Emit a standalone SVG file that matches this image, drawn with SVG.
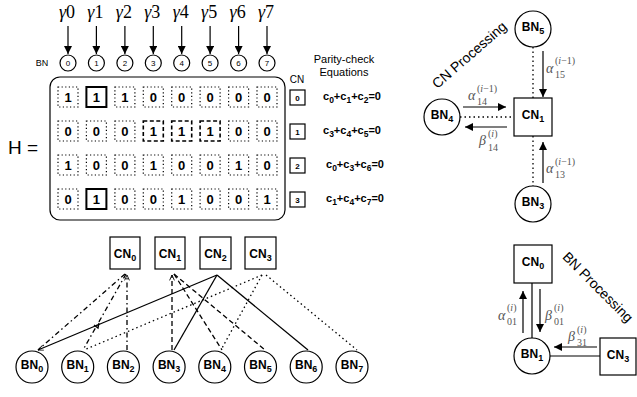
<svg xmlns="http://www.w3.org/2000/svg" width="637" height="397" viewBox="0 0 637 397">
<style>
.t{font-family:"Liberation Sans",Arial,sans-serif;fill:#000}
.b{font-weight:bold}
.ln{stroke:#000;fill:none;stroke-width:1.2}
.dot{stroke:#000;fill:#fff;stroke-width:1.2;stroke-dasharray:1.2 2.4}
.dsh{stroke:#000;fill:#fff;stroke-width:1.6;stroke-dasharray:4 2.5}
.bld{stroke:#000;fill:#fff;stroke-width:2}
.box{stroke:#000;fill:#fff;stroke-width:1.2}
.cd{font-family:"Liberation Sans",Arial,sans-serif;font-weight:bold;font-size:13px;text-anchor:middle}
.g{font-family:"Liberation Serif","DejaVu Serif",serif;font-size:18px;text-anchor:middle}
.m{font-family:"Liberation Serif","DejaVu Serif",serif;fill:#555}
.mi{font-style:italic;font-size:14px}
.ms{font-size:10px}
.eq{font-family:"Liberation Sans",Arial,sans-serif;font-weight:bold;font-size:11px}
.sb{font-size:8.5px}
.lbl{font-family:"Liberation Sans",Arial,sans-serif;font-weight:bold;font-size:12px;text-anchor:middle}
.lbs{font-size:9px}
.sd{stroke:#000;fill:none;stroke-width:1.3}
.dd{stroke-dasharray:5 3 1.5 3}
.da{stroke-dasharray:5 3}
.dt{stroke-dasharray:1.5 3}
</style>
<defs>
<marker id="ah" viewBox="0 0 10 10" refX="10" refY="5" markerWidth="9" markerHeight="8" markerUnits="userSpaceOnUse" orient="auto">
<path d="M0,0 L10,5 L0,10 z" fill="#000"/>
</marker>
<marker id="ao" viewBox="0 0 10 10" refX="10" refY="5" markerWidth="6" markerHeight="6" markerUnits="userSpaceOnUse" orient="auto">
<path d="M1,1 L10,5 L1,9" fill="none" stroke="#000" stroke-width="1.5"/>
</marker>
</defs>

<!-- gamma inputs -->
<g id="gammas">
<text class="g" x="67" y="18"><tspan font-style="italic">γ</tspan>0</text>
<text class="g" x="95.4" y="18"><tspan font-style="italic">γ</tspan>1</text>
<text class="g" x="123.9" y="18"><tspan font-style="italic">γ</tspan>2</text>
<text class="g" x="152.3" y="18"><tspan font-style="italic">γ</tspan>3</text>
<text class="g" x="180.7" y="18"><tspan font-style="italic">γ</tspan>4</text>
<text class="g" x="209.1" y="18"><tspan font-style="italic">γ</tspan>5</text>
<text class="g" x="237.6" y="18"><tspan font-style="italic">γ</tspan>6</text>
<text class="g" x="266" y="18"><tspan font-style="italic">γ</tspan>7</text>
</g>
<g id="gamma-arrows">
<line class="ln" x1="68" y1="26" x2="68" y2="54" marker-end="url(#ah)"/>
<line class="ln" x1="96.4" y1="26" x2="96.4" y2="54" marker-end="url(#ah)"/>
<line class="ln" x1="124.9" y1="26" x2="124.9" y2="54" marker-end="url(#ah)"/>
<line class="ln" x1="153.3" y1="26" x2="153.3" y2="54" marker-end="url(#ah)"/>
<line class="ln" x1="181.7" y1="26" x2="181.7" y2="54" marker-end="url(#ah)"/>
<line class="ln" x1="210.1" y1="26" x2="210.1" y2="54" marker-end="url(#ah)"/>
<line class="ln" x1="238.6" y1="26" x2="238.6" y2="54" marker-end="url(#ah)"/>
<line class="ln" x1="267" y1="26" x2="267" y2="54" marker-end="url(#ah)"/>
</g>

<!-- BN index circles -->
<g id="bn-index">
<text class="t" x="42" y="66" font-size="9" text-anchor="middle">BN</text>
<g class="t" font-size="8" text-anchor="middle">
<circle class="box" cx="68" cy="63" r="8"/><text x="68" y="66">0</text>
<circle class="box" cx="96.4" cy="63" r="8"/><text x="96.4" y="66">1</text>
<circle class="box" cx="124.9" cy="63" r="8"/><text x="124.9" y="66">2</text>
<circle class="box" cx="153.3" cy="63" r="8"/><text x="153.3" y="66">3</text>
<circle class="box" cx="181.7" cy="63" r="8"/><text x="181.7" y="66">4</text>
<circle class="box" cx="210.1" cy="63" r="8"/><text x="210.1" y="66">5</text>
<circle class="box" cx="238.6" cy="63" r="8"/><text x="238.6" y="66">6</text>
<circle class="box" cx="267" cy="63" r="8"/><text x="267" y="66">7</text>
</g>
</g>

<!-- H matrix -->
<g id="matrix">
<text class="t" x="8" y="154" font-size="19">H =</text>
<rect class="box" x="50" y="77" width="235" height="143" rx="10" stroke-width="1.5"/>
<rect class="dot" x="58" y="87" width="20" height="20"/>
<rect class="bld" x="86.4" y="87" width="20" height="20"/>
<rect class="dot" x="114.9" y="87" width="20" height="20"/>
<rect class="dot" x="143.3" y="87" width="20" height="20"/>
<rect class="dot" x="171.7" y="87" width="20" height="20"/>
<rect class="dot" x="200.1" y="87" width="20" height="20"/>
<rect class="dot" x="228.6" y="87" width="20" height="20"/>
<rect class="dot" x="257" y="87" width="20" height="20"/>
<rect class="dot" x="58" y="121" width="20" height="20"/>
<rect class="dot" x="86.4" y="121" width="20" height="20"/>
<rect class="dot" x="114.9" y="121" width="20" height="20"/>
<rect class="dsh" x="143.3" y="121" width="20" height="20"/>
<rect class="dsh" x="171.7" y="121" width="20" height="20"/>
<rect class="dsh" x="200.1" y="121" width="20" height="20"/>
<rect class="dot" x="228.6" y="121" width="20" height="20"/>
<rect class="dot" x="257" y="121" width="20" height="20"/>
<rect class="dot" x="58" y="155" width="20" height="20"/>
<rect class="dot" x="86.4" y="155" width="20" height="20"/>
<rect class="dot" x="114.9" y="155" width="20" height="20"/>
<rect class="dot" x="143.3" y="155" width="20" height="20"/>
<rect class="dot" x="171.7" y="155" width="20" height="20"/>
<rect class="dot" x="200.1" y="155" width="20" height="20"/>
<rect class="dot" x="228.6" y="155" width="20" height="20"/>
<rect class="dot" x="257" y="155" width="20" height="20"/>
<rect class="dot" x="58" y="189" width="20" height="20"/>
<rect class="bld" x="86.4" y="189" width="20" height="20"/>
<rect class="dot" x="114.9" y="189" width="20" height="20"/>
<rect class="dot" x="143.3" y="189" width="20" height="20"/>
<rect class="dot" x="171.7" y="189" width="20" height="20"/>
<rect class="dot" x="200.1" y="189" width="20" height="20"/>
<rect class="dot" x="228.6" y="189" width="20" height="20"/>
<rect class="dot" x="257" y="189" width="20" height="20"/>
<g class="cd">
<text x="68" y="102">1</text><text x="96.4" y="102">1</text><text x="124.9" y="102">1</text><text x="153.3" y="102">0</text><text x="181.7" y="102">0</text><text x="210.1" y="102">0</text><text x="238.6" y="102">0</text><text x="267" y="102">0</text>
<text x="68" y="136">0</text><text x="96.4" y="136">0</text><text x="124.9" y="136">0</text><text x="153.3" y="136">1</text><text x="181.7" y="136">1</text><text x="210.1" y="136">1</text><text x="238.6" y="136">0</text><text x="267" y="136">0</text>
<text x="68" y="170">1</text><text x="96.4" y="170">0</text><text x="124.9" y="170">0</text><text x="153.3" y="170">1</text><text x="181.7" y="170">0</text><text x="210.1" y="170">0</text><text x="238.6" y="170">1</text><text x="267" y="170">0</text>
<text x="68" y="204">0</text><text x="96.4" y="204">1</text><text x="124.9" y="204">0</text><text x="153.3" y="204">0</text><text x="181.7" y="204">1</text><text x="210.1" y="204">0</text><text x="238.6" y="204">0</text><text x="267" y="204">1</text>
</g>
</g>

<!-- CN index and equations -->
<g id="cn-index">
<text class="t" x="297" y="83" font-size="10" text-anchor="middle">CN</text>
<rect class="box" x="290" y="90" width="15" height="15"/>
<rect class="box" x="290" y="124" width="15" height="15"/>
<rect class="box" x="290" y="158" width="15" height="15"/>
<rect class="box" x="290" y="192" width="15" height="15"/>
<g class="t b" font-size="8" text-anchor="middle">
<text x="297.5" y="100.5">0</text><text x="297.5" y="134.5">1</text><text x="297.5" y="168.5">2</text><text x="297.5" y="202.5">3</text>
</g>
</g>
<g id="equations">
<text class="t" x="344" y="63" font-size="11" text-anchor="middle">Parity-check</text>
<text class="t" x="344" y="76" font-size="11" text-anchor="middle">Equations</text>
<text class="eq" x="323" y="100">c<tspan class="sb" dy="3">0</tspan><tspan dy="-3">+c</tspan><tspan class="sb" dy="3">1</tspan><tspan dy="-3">+c</tspan><tspan class="sb" dy="3">2</tspan><tspan dy="-3">=0</tspan></text>
<text class="eq" x="323" y="134">c<tspan class="sb" dy="3">3</tspan><tspan dy="-3">+c</tspan><tspan class="sb" dy="3">4</tspan><tspan dy="-3">+c</tspan><tspan class="sb" dy="3">5</tspan><tspan dy="-3">=0</tspan></text>
<text class="eq" x="326" y="168">c<tspan class="sb" dy="3">0</tspan><tspan dy="-3">+c</tspan><tspan class="sb" dy="3">3</tspan><tspan dy="-3">+c</tspan><tspan class="sb" dy="3">6</tspan><tspan dy="-3">=0</tspan></text>
<text class="eq" x="326" y="202">c<tspan class="sb" dy="3">1</tspan><tspan dy="-3">+c</tspan><tspan class="sb" dy="3">4</tspan><tspan dy="-3">+c</tspan><tspan class="sb" dy="3">7</tspan><tspan dy="-3">=0</tspan></text>
</g>

<!-- Tanner graph connectors -->
<g id="tanner-edges">
<line class="sd dd" x1="125" y1="274" x2="38" y2="350"/>
<line class="sd dd" x1="126" y1="274" x2="83" y2="350"/>
<line class="sd dd" x1="127" y1="350" x2="127" y2="275" marker-end="url(#ao)"/>
<path class="sd" d="M94,325 L98,328 L99,323"/>
<line class="sd da" x1="172" y1="350" x2="172" y2="275" marker-end="url(#ao)"/>
<line class="sd da" x1="174" y1="274" x2="222" y2="350"/>
<line class="sd da" x1="174" y1="274" x2="265" y2="350"/>
<line class="sd" x1="217" y1="275" x2="38" y2="350" marker-end="url(#ao)"/>
<line class="sd" x1="217" y1="275" x2="174" y2="350"/>
<line class="sd" x1="217" y1="275" x2="308" y2="350"/>
<line class="sd dt" x1="262" y1="275" x2="84" y2="350"/>
<line class="sd dt" x1="262" y1="275" x2="221" y2="350"/>
<line class="sd dt" x1="266" y1="275" x2="357" y2="350"/>
</g>

<!-- Tanner CN nodes -->
<g id="tcn0"><rect class="box" x="110" y="237" width="30" height="32"/><text class="lbl" x="125" y="258">CN<tspan class="lbs" dy="3">0</tspan></text></g>
<g id="tcn1"><rect class="box" x="155" y="237" width="30" height="32"/><text class="lbl" x="170" y="258">CN<tspan class="lbs" dy="3">1</tspan></text></g>
<g id="tcn2"><rect class="box" x="200" y="237" width="31" height="32"/><text class="lbl" x="215.5" y="258">CN<tspan class="lbs" dy="3">2</tspan></text></g>
<g id="tcn3"><rect class="box" x="245" y="237" width="31" height="32"/><text class="lbl" x="260.5" y="258">CN<tspan class="lbs" dy="3">3</tspan></text></g>

<!-- Tanner BN nodes -->
<g id="tbn0"><circle class="box" cx="32" cy="367" r="16"/><text class="lbl" x="32" y="369">BN<tspan class="lbs" dy="3">0</tspan></text></g>
<g id="tbn1"><circle class="box" cx="77.7" cy="367" r="16"/><text class="lbl" x="77.7" y="369">BN<tspan class="lbs" dy="3">1</tspan></text></g>
<g id="tbn2"><circle class="box" cx="123.4" cy="367" r="16"/><text class="lbl" x="123.4" y="369">BN<tspan class="lbs" dy="3">2</tspan></text></g>
<g id="tbn3"><circle class="box" cx="169.1" cy="367" r="16"/><text class="lbl" x="169.1" y="369">BN<tspan class="lbs" dy="3">3</tspan></text></g>
<g id="tbn4"><circle class="box" cx="214.8" cy="367" r="16"/><text class="lbl" x="214.8" y="369">BN<tspan class="lbs" dy="3">4</tspan></text></g>
<g id="tbn5"><circle class="box" cx="260.5" cy="367" r="16"/><text class="lbl" x="260.5" y="369">BN<tspan class="lbs" dy="3">5</tspan></text></g>
<g id="tbn6"><circle class="box" cx="306.2" cy="367" r="16"/><text class="lbl" x="306.2" y="369">BN<tspan class="lbs" dy="3">6</tspan></text></g>
<g id="tbn7"><circle class="box" cx="352" cy="367" r="16"/><text class="lbl" x="352" y="369">BN<tspan class="lbs" dy="3">7</tspan></text></g>

<!-- CN processing -->
<text class="t" font-size="14" text-anchor="middle" transform="translate(472.5,58.5) rotate(-41)">CN Processing</text>
<g id="cnp-edges">
<line class="sd dt" x1="533" y1="47" x2="533" y2="98" stroke-width="1.5"/>
<line class="sd dt" x1="460" y1="117" x2="514" y2="117" stroke-width="1.5"/>
<line class="sd dt" x1="533" y1="136" x2="533" y2="186" stroke-width="1.5"/>
<line class="ln" x1="543" y1="51" x2="543" y2="97" marker-end="url(#ah)"/>
<line class="ln" x1="463" y1="107" x2="506" y2="107" marker-end="url(#ah)"/>
<line class="ln" x1="507" y1="127" x2="465" y2="127" marker-end="url(#ah)"/>
<line class="ln" x1="543" y1="183" x2="543" y2="142" marker-end="url(#ah)"/>
</g>
<g id="cnp-labels" class="m">
<text class="mi" x="546" y="73">α</text><text class="ms" x="555" y="64">(<tspan font-style="italic">i</tspan>−1)</text><text class="ms" x="555" y="78">15</text>
<text class="mi" x="468" y="100">α</text><text class="ms" x="477" y="92">(<tspan font-style="italic">i</tspan>−1)</text><text class="ms" x="477" y="105">14</text>
<text class="mi" x="479" y="145">β</text><text class="ms" x="488" y="137">(<tspan font-style="italic">i</tspan>)</text><text class="ms" x="488" y="151">14</text>
<text class="mi" x="546" y="173">α</text><text class="ms" x="555" y="165">(<tspan font-style="italic">i</tspan>−1)</text><text class="ms" x="555" y="178">13</text>
</g>
<g id="bn5"><circle class="box" cx="533" cy="29" r="18"/><text class="lbl" x="533" y="31">BN<tspan class="lbs" dy="3">5</tspan></text></g>
<g id="bn4"><circle class="box" cx="442" cy="117" r="18"/><text class="lbl" x="442" y="119">BN<tspan class="lbs" dy="3">4</tspan></text></g>
<g id="cn1"><rect class="box" x="514" y="98" width="38" height="38"/><text class="lbl" x="533" y="119">CN<tspan class="lbs" dy="3">1</tspan></text></g>
<g id="bn3"><circle class="box" cx="533" cy="204" r="18"/><text class="lbl" x="533" y="206">BN<tspan class="lbs" dy="3">3</tspan></text></g>

<!-- BN processing -->
<text class="t" font-size="14" text-anchor="middle" transform="translate(594.5,290.5) rotate(45)">BN Processing</text>
<g id="bnp-edges">
<line class="ln" x1="532" y1="283" x2="532" y2="338" stroke-width="2"/>
<line class="ln" x1="550" y1="356" x2="600" y2="356" stroke-width="2"/>
<line class="ln" x1="523" y1="333" x2="523" y2="291" marker-end="url(#ah)"/>
<line class="ln" x1="540" y1="289" x2="540" y2="332" marker-end="url(#ah)"/>
<line class="ln" x1="597" y1="347" x2="554" y2="347" marker-end="url(#ah)"/>
</g>
<g id="bnp-labels" class="m">
<text class="mi" x="498" y="320">α</text><text class="ms" x="507" y="311">(<tspan font-style="italic">i</tspan>)</text><text class="ms" x="507" y="325">01</text>
<text class="mi" x="545" y="320">β</text><text class="ms" x="554" y="311">(<tspan font-style="italic">i</tspan>)</text><text class="ms" x="554" y="325">01</text>
<text class="mi" x="568" y="341">β</text><text class="ms" x="577" y="333">(<tspan font-style="italic">i</tspan>)</text><text class="ms" x="577" y="346">31</text>
</g>
<g id="cn0"><rect class="box" x="514" y="245" width="38" height="38"/><text class="lbl" x="533" y="266">CN<tspan class="lbs" dy="3">0</tspan></text></g>
<g id="bn1"><circle class="box" cx="532" cy="356" r="18"/><text class="lbl" x="532" y="358">BN<tspan class="lbs" dy="3">1</tspan></text></g>
<g id="cn3"><rect class="box" x="600" y="338" width="36" height="37"/><text class="lbl" x="618" y="359">CN<tspan class="lbs" dy="3">3</tspan></text></g>
</svg>
